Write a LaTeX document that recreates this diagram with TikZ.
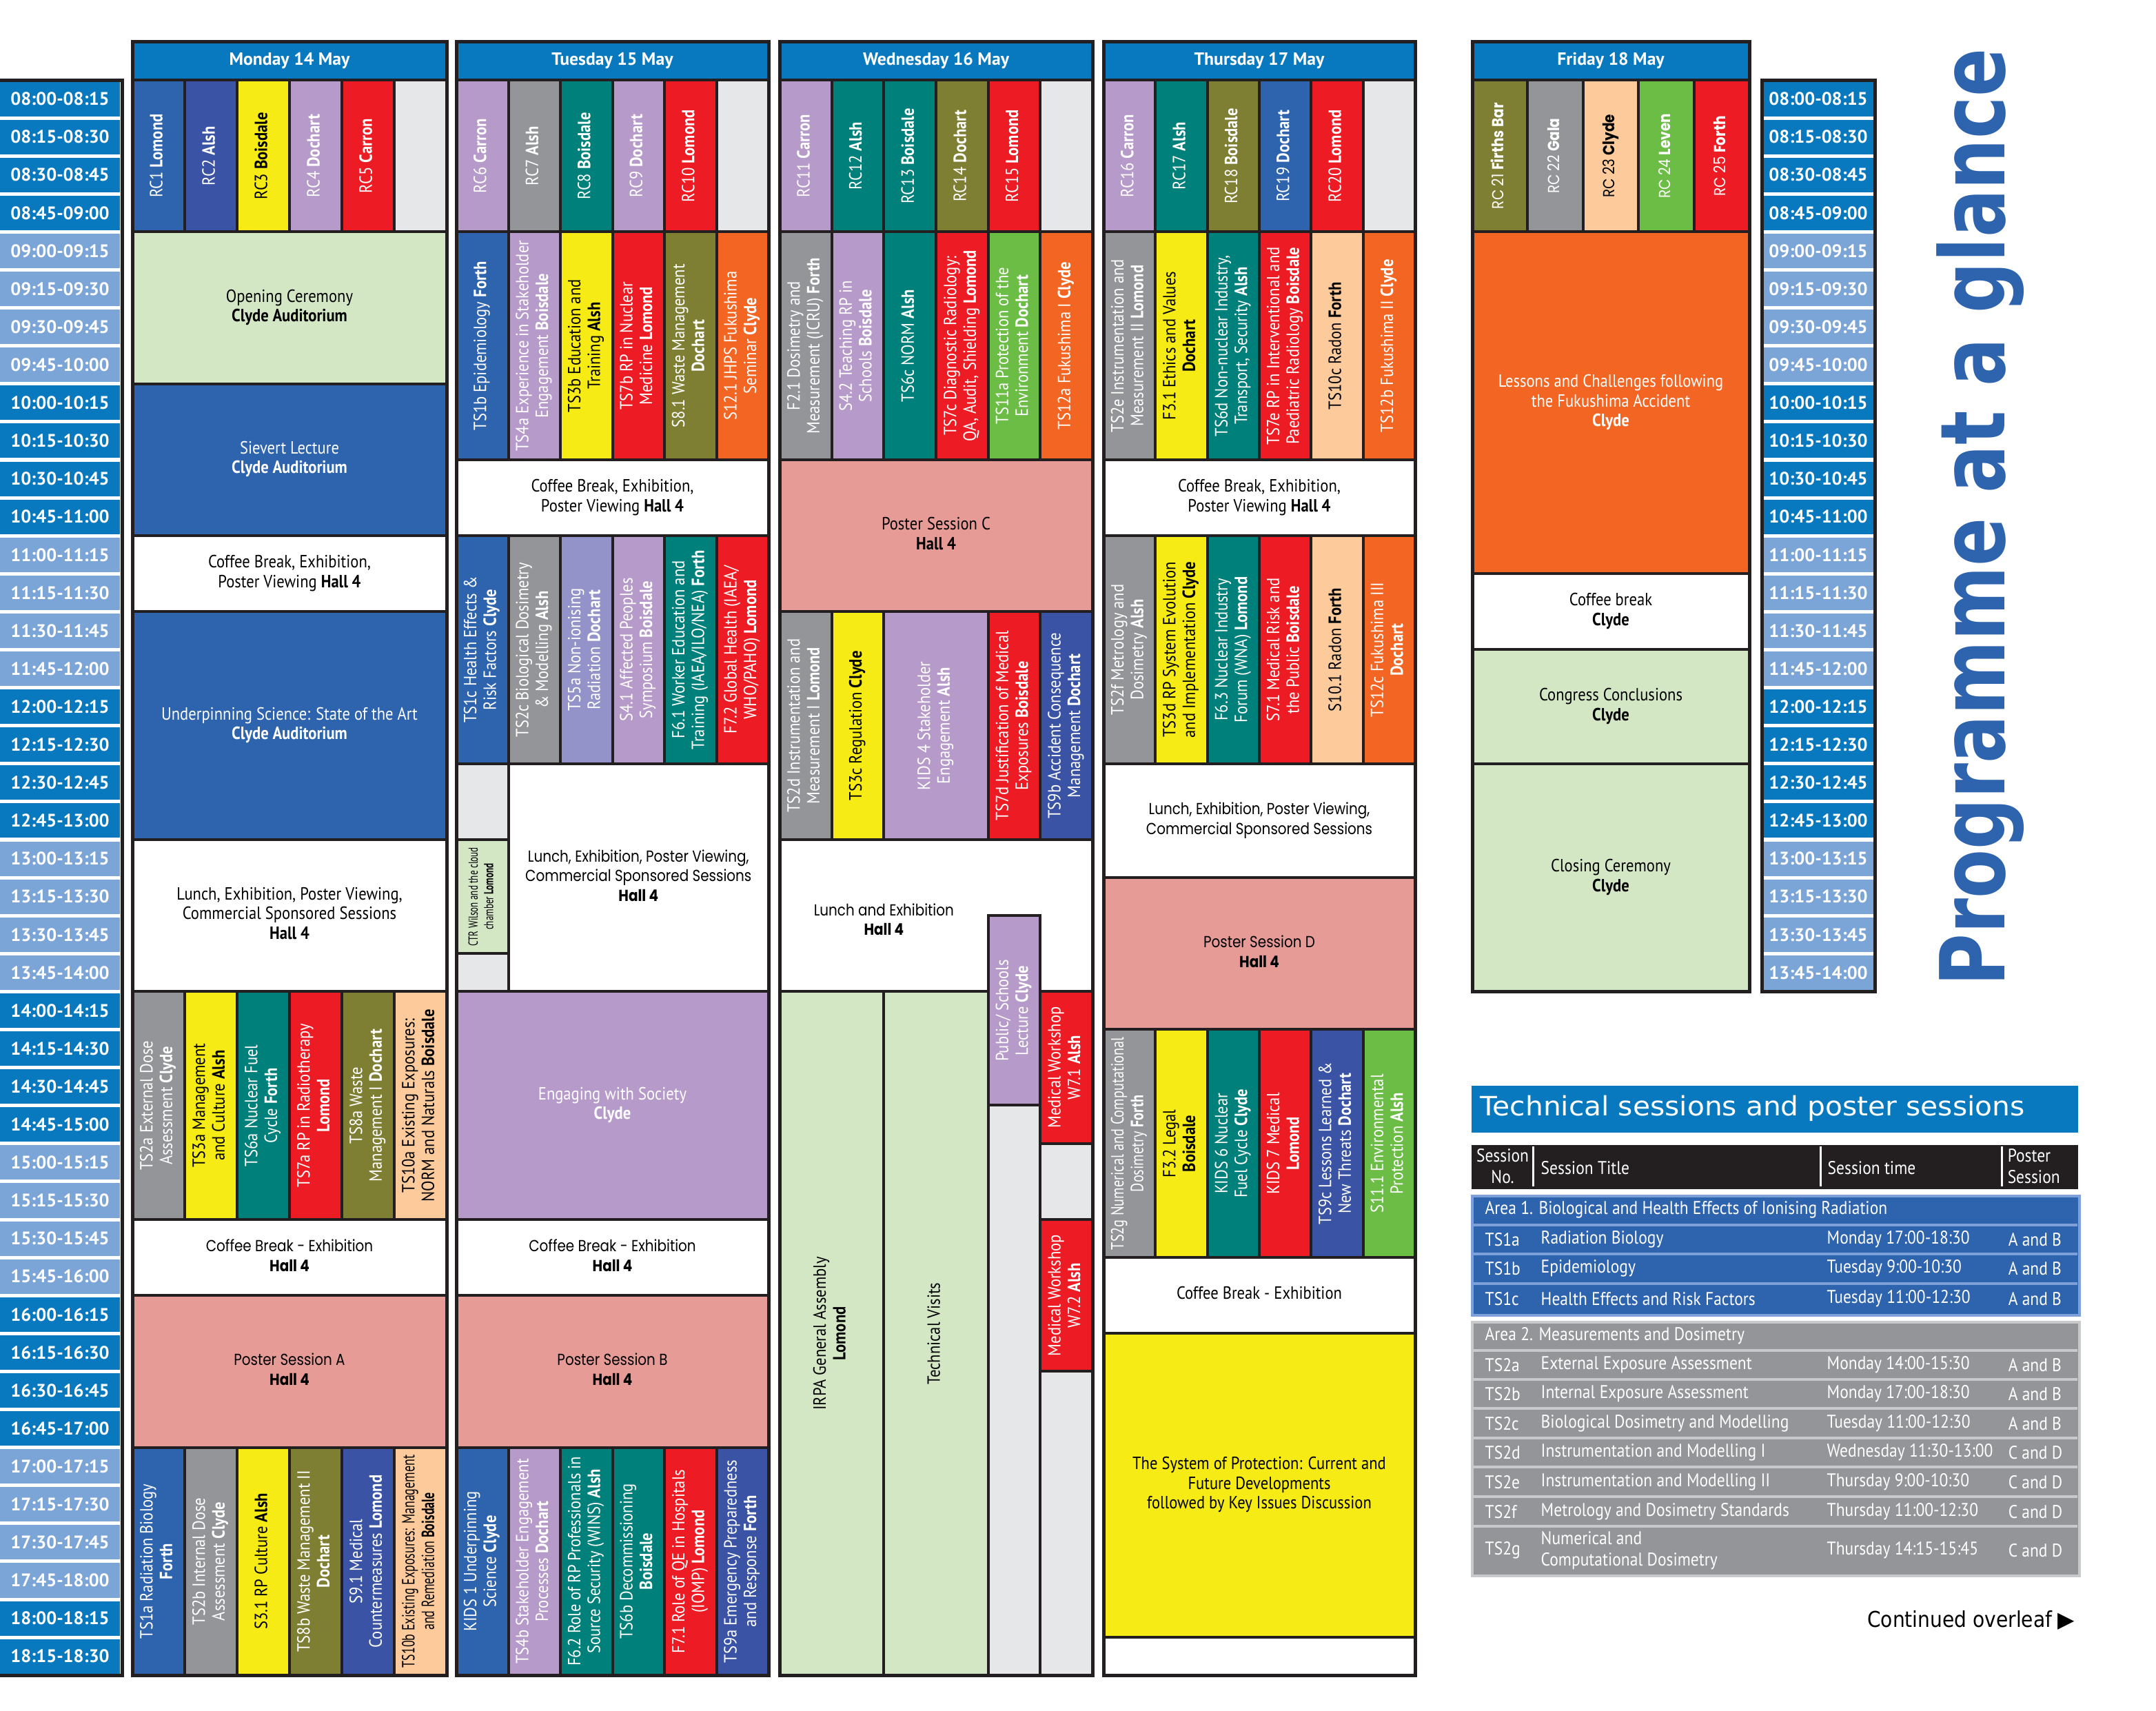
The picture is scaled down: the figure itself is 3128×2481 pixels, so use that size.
\documentclass[tikz,border=0pt]{standalone}
\usepackage{fontspec}
\usepackage{graphicx}
\setmainfont[FakeStretch=0.88]{PT Sans}
\newfontfamily\widef{PT Sans}
\newfontfamily\geof[FakeStretch=0.86]{Poppins}
\newfontfamily\djvf{DejaVu Sans}
\newlength\pxu
\setlength\pxu{0.01cm}
\newsavebox\lbbox
\newcommand\fitlines[2]{\sbox\lbbox{\begin{tabular}{@{}c@{}}#2\end{tabular}}\ifdim\wd\lbbox>#1\relax\resizebox{#1}{\height}{\usebox\lbbox}\else\usebox\lbbox\fi}
\newcommand\two[1]{\ifnum#1<10 0\fi#1}
\definecolor{dark}{HTML}{231F20}
\definecolor{headblue}{HTML}{0879BF}
\definecolor{tdark}{HTML}{0879BF}
\definecolor{tlight}{HTML}{7BA4D7}
\definecolor{cblue}{HTML}{2E63AE}
\definecolor{cnavy}{HTML}{3A53A4}
\definecolor{cyellow}{HTML}{F6EB14}
\definecolor{clilac}{HTML}{B69AC9}
\definecolor{cred}{HTML}{ED1C24}
\definecolor{cgray}{HTML}{939598}
\definecolor{cteal}{HTML}{00807A}
\definecolor{colive}{HTML}{7F7F34}
\definecolor{corange}{HTML}{F26522}
\definecolor{cpeach}{HTML}{FDCB9B}
\definecolor{cgreen}{HTML}{6BBD45}
\definecolor{clgreen}{HTML}{D4E7C5}
\definecolor{csalmon}{HTML}{E69B96}
\definecolor{cperi}{HTML}{9493C9}
\definecolor{cempty}{HTML}{E6E7E8}
\definecolor{sepblue}{HTML}{7DA0D8}
\definecolor{sepgray}{HTML}{C8C9CB}
\definecolor{titleblue}{HTML}{2E63AE}
\tikzset{
  cellb/.style={draw=dark, line width=0.04cm, inner sep=0pt, outer sep=0pt, text=white, font=\fontsize{7.3}{8.1}\selectfont},
  kbl/.style={fill=cblue, text=white},
  knv/.style={fill=cnavy, text=white},
  kye/.style={fill=cyellow, text=black},
  kli/.style={fill=clilac, text=white},
  kre/.style={fill=cred, text=white},
  kgr/.style={fill=cgray, text=white},
  kte/.style={fill=cteal, text=white},
  kol/.style={fill=colive, text=white},
  korn/.style={fill=corange, text=white},
  kpe/.style={fill=cpeach, text=black},
  kgn/.style={fill=cgreen, text=white},
  klg/.style={fill=clgreen, text=black},
  ksa/.style={fill=csalmon, text=black},
  kpw/.style={fill=cperi, text=white},
  kem/.style={fill=cempty},
  kwh/.style={fill=white, text=black},
  kgeo/.style={font=\geof\fontsize{6.6}{8.1}\selectfont},
  hdr/.style={fill=headblue, draw=dark, line width=0.04cm, inner sep=0pt, minimum height=0.56cm, text=white, font=\widef\bfseries\fontsize{7.3}{9}\selectfont},
  tcell/.style={inner sep=0pt, minimum width=1.74cm, minimum height=0.50cm, text=white, font=\widef\bfseries\fontsize{7.5}{9}\selectfont},
  dframe/.style={draw=dark, line width=0.05cm},
  ttxt/.style={text=white, inner sep=0pt, font=\fontsize{7.6}{8.8}\selectfont},
}
\newcommand\Vcell[7]{%
  \pgfmathsetmacro\Lmax{((#5)-(#4))*55.1-22}%
  \node[cellb,#6,rotate=90,minimum width={((#5)-(#4))*0.551cm},minimum height={((#3)-(#2))*\DW*0.01cm}] (#1) at ({\DL+\DW*((#2)+(#3))/2},{116+55.1*((#4)+(#5))/2}) {\fitlines{\Lmax\pxu}{#7}};%
}
\newcommand\Hcell[7]{%
  \pgfmathsetmacro\Lmax{((#3)-(#2))*\DW-16}%
  \node[cellb,#6,minimum width={((#3)-(#2))*\DW*0.01cm},minimum height={((#5)-(#4))*0.551cm}] (#1) at ({\DL+\DW*((#2)+(#3))/2},{116+55.1*((#4)+(#5))/2}) {\fitlines{\Lmax\pxu}{#7}};%
}
\begin{document}
\begin{tikzpicture}[x=0.01cm,y=-0.01cm]
\useasboundingbox (0,0) rectangle (3128,2481);
\fill[white] (0,0) rectangle (3128,2481);

% ---------- left time column
\foreach \i in {0,...,41}{%
  \pgfmathtruncatemacro\hA{8+floor(\i/4)}%
  \pgfmathtruncatemacro\mA{15*mod(\i,4)}%
  \pgfmathtruncatemacro\hB{8+floor((\i+1)/4)}%
  \pgfmathtruncatemacro\mB{15*mod(\i+1,4)}%
  \pgfmathtruncatemacro\pp{mod(floor(\i/4),2)}%
  \ifnum\pp=0 \def\tcol{tdark}\else\def\tcol{tlight}\fi
  \node[tcell, fill=\tcol] (tl\i) at (87,{116+55.1*(\i+0.5)}) {\two\hA:\two\mA-\two\hB:\two\mB};
}
\draw[dframe] (-5,116) -- (177,116) -- (177,2430) -- (-5,2430);

% ---------- right time column
\foreach \i in {0,...,23}{%
  \pgfmathtruncatemacro\hA{8+floor(\i/4)}%
  \pgfmathtruncatemacro\mA{15*mod(\i,4)}%
  \pgfmathtruncatemacro\hB{8+floor((\i+1)/4)}%
  \pgfmathtruncatemacro\mB{15*mod(\i+1,4)}%
  \pgfmathtruncatemacro\pp{mod(floor(\i/4),2)}%
  \ifnum\pp=0 \def\tcol{tdark}\else\def\tcol{tlight}\fi
  \node[tcell, fill=\tcol, minimum width=1.60cm] (tr\i) at (2638,{116+55.1*(\i+0.5)}) {\two\hA:\two\mA-\two\hB:\two\mB};
}
\draw[dframe] (2556,116) rectangle (2720,{116+55.1*24});

% ---------- MONDAY
\def\DL{192}\def\DW{76}
\node[hdr, minimum width={6*\DW*0.01cm}] (monh) at ({\DL+3*\DW},88) {Monday 14 May};
\Vcell{m1}{0}{1}{0}{4}{kbl}{RC1 \textbf{Lomond}}
\Vcell{m2}{1}{2}{0}{4}{knv}{RC2 \textbf{Alsh}}
\Vcell{m3}{2}{3}{0}{4}{kye}{RC3 \textbf{Boisdale}}
\Vcell{m4}{3}{4}{0}{4}{kli}{RC4 \textbf{Dochart}}
\Vcell{m5}{4}{5}{0}{4}{kre}{RC5 \textbf{Carron}}
\Vcell{m6}{5}{6}{0}{4}{kem}{}
\Hcell{mopen}{0}{6}{4}{8}{klg}{Opening Ceremony\\\textbf{Clyde Auditorium}}
\Hcell{msiev}{0}{6}{8}{12}{kbl}{Sievert Lecture\\\textbf{Clyde Auditorium}}
\Hcell{mcofa}{0}{6}{12}{14}{kwh}{Coffee Break, Exhibition,\\Poster Viewing \textbf{Hall 4}}
\Hcell{mund}{0}{6}{14}{20}{kbl}{Underpinning Science: State of the Art\\\textbf{Clyde Auditorium}}
\Hcell{mlun}{0}{6}{20}{24}{kwh}{Lunch, Exhibition, Poster Viewing,\\Commercial Sponsored Sessions\\\textbf{Hall 4}}
\Vcell{mtsa}{0}{1}{24}{30}{kgr}{TS2a External Dose\\Assessment \textbf{Clyde}}
\Vcell{mtsb}{1}{2}{24}{30}{kye}{TS3a Management\\and Culture \textbf{Alsh}}
\Vcell{mtsc}{2}{3}{24}{30}{kte}{TS6a Nuclear Fuel\\Cycle \textbf{Forth}}
\Vcell{mtsd}{3}{4}{24}{30}{kre}{TS7a RP in Radiotherapy\\\textbf{Lomond}}
\Vcell{mtse}{4}{5}{24}{30}{kol}{TS8a Waste\\Management I \textbf{Dochart}}
\Vcell{mtsf}{5}{6}{24}{30}{kpe}{TS10a Existing Exposures:\\NORM and Naturals \textbf{Boisdale}}
\Hcell{mcofb}{0}{6}{30}{32}{kwh,kgeo}{Coffee Break - Exhibition\\\textbf{Hall 4}}
\Hcell{mpa}{0}{6}{32}{36}{ksa,kgeo}{Poster Session A\\\textbf{Hall 4}}
\Vcell{mtsg}{0}{1}{36}{42}{kbl}{TS1a Radiation Biology\\\textbf{Forth}}
\Vcell{mtsh}{1}{2}{36}{42}{kgr}{TS2b Internal Dose\\Assessment \textbf{Clyde}}
\Vcell{mtsi}{2}{3}{36}{42}{kye}{S3.1 RP Culture \textbf{Alsh}}
\Vcell{mtsj}{3}{4}{36}{42}{kol}{TS8b Waste Management II\\\textbf{Dochart}}
\Vcell{mtsk}{4}{5}{36}{42}{knv}{S9.1 Medical\\Countermeasures \textbf{Lomond}}
\Vcell{mtsl}{5}{6}{36}{42}{kpe}{TS10b Existing Exposures: Management\\and Remediation \textbf{Boisdale}}
\draw[dframe] (192,60) rectangle (648,2430);

% ---------- TUESDAY
\def\DL{662}\def\DW{75.5}
\node[hdr, minimum width={6*\DW*0.01cm}] (tueh) at ({\DL+3*\DW},88) {Tuesday 15 May};
\Vcell{u1}{0}{1}{0}{4}{kli}{RC6 \textbf{Carron}}
\Vcell{u2}{1}{2}{0}{4}{kgr}{RC7 \textbf{Alsh}}
\Vcell{u3}{2}{3}{0}{4}{kte}{RC8 \textbf{Boisdale}}
\Vcell{u4}{3}{4}{0}{4}{kli}{RC9 \textbf{Dochart}}
\Vcell{u5}{4}{5}{0}{4}{kre}{RC10 \textbf{Lomond}}
\Vcell{u6}{5}{6}{0}{4}{kem}{}
\Vcell{ua1}{0}{1}{4}{10}{kbl}{TS1b Epidemiology \textbf{Forth}}
\Vcell{ua2}{1}{2}{4}{10}{kli}{TS4a Experience in Stakeholder\\Engagement \textbf{Boisdale}}
\Vcell{ua3}{2}{3}{4}{10}{kye}{TS3b Education and\\Training \textbf{Alsh}}
\Vcell{ua4}{3}{4}{4}{10}{kre}{TS7b RP in Nuclear\\Medicine \textbf{Lomond}}
\Vcell{ua5}{4}{5}{4}{10}{kol}{S8.1 Waste Management\\\textbf{Dochart}}
\Vcell{ua6}{5}{6}{4}{10}{korn}{S12.1 JHPS Fukushima\\Seminar \textbf{Clyde}}
\Hcell{ucofa}{0}{6}{10}{12}{kwh}{Coffee Break, Exhibition,\\Poster Viewing \textbf{Hall 4}}
\Vcell{ub1}{0}{1}{12}{18}{kbl}{TS1c Health Effects \&\\Risk Factors \textbf{Clyde}}
\Vcell{ub2}{1}{2}{12}{18}{kgr}{TS2c Biological Dosimetry\\\& Modelling \textbf{Alsh}}
\Vcell{ub3}{2}{3}{12}{18}{kpw}{TS5a Non-ionising\\Radiation \textbf{Dochart}}
\Vcell{ub4}{3}{4}{12}{18}{kli}{S4.1 Affected Peoples\\Symposium \textbf{Boisdale}}
\Vcell{ub5}{4}{5}{12}{18}{kte}{F6.1 Worker Education and\\Training (IAEA/ILO/NEA) \textbf{Forth}}
\Vcell{ub6}{5}{6}{12}{18}{kre}{F7.2 Global Health (IAEA/\\WHO/PAHO) \textbf{Lomond}}
\Vcell{uga}{0}{1}{18}{20}{kem}{}
\Vcell{uctr}{0}{1}{20}{23}{klg,font=\fontsize{5.4}{6.4}\selectfont}{CTR Wilson and the cloud\\chamber \textbf{Lomond}}
\Vcell{ugb}{0}{1}{23}{24}{kem}{}
\Hcell{ulun}{1}{6}{18}{24}{kwh,kgeo}{Lunch, Exhibition, Poster Viewing,\\Commercial Sponsored Sessions\\\textbf{Hall 4}}
\Hcell{ueng}{0}{6}{24}{30}{kli}{Engaging with Society\\\textbf{Clyde}}
\Hcell{ucofb}{0}{6}{30}{32}{kwh,kgeo}{Coffee Break - Exhibition\\\textbf{Hall 4}}
\Hcell{upb}{0}{6}{32}{36}{ksa,kgeo}{Poster Session B\\\textbf{Hall 4}}
\Vcell{uc1}{0}{1}{36}{42}{kbl}{KIDS 1 Underpinning\\Science \textbf{Clyde}}
\Vcell{uc2}{1}{2}{36}{42}{kli}{TS4b Stakeholder Engagement\\Processes \textbf{Dochart}}
\Vcell{uc3}{2}{3}{36}{42}{kte}{F6.2 Role of RP Professionals in\\Source Security (WINS) \textbf{Alsh}}
\Vcell{uc4}{3}{4}{36}{42}{kte}{TS6b Decommissioning\\\textbf{Boisdale}}
\Vcell{uc5}{4}{5}{36}{42}{kre}{F7.1 Role of QE in Hospitals\\(IOMP) \textbf{Lomond}}
\Vcell{uc6}{5}{6}{36}{42}{knv}{TS9a Emergency Preparedness\\and Response \textbf{Forth}}
\draw[dframe] (662,60) rectangle (1115,2430);

% ---------- WEDNESDAY
\def\DL{1131}\def\DW{75.67}
\node[hdr, minimum width={6*\DW*0.01cm}] (wedh) at ({\DL+3*\DW},88) {Wednesday 16 May};
\Vcell{w1}{0}{1}{0}{4}{kli}{RC11 \textbf{Carron}}
\Vcell{w2}{1}{2}{0}{4}{kte}{RC12 \textbf{Alsh}}
\Vcell{w3}{2}{3}{0}{4}{kte}{RC13 \textbf{Boisdale}}
\Vcell{w4}{3}{4}{0}{4}{kol}{RC14 \textbf{Dochart}}
\Vcell{w5}{4}{5}{0}{4}{kre}{RC15 \textbf{Lomond}}
\Vcell{w6}{5}{6}{0}{4}{kem}{}
\Vcell{wa1}{0}{1}{4}{10}{kgr}{F2.1 Dosimetry and\\Measurement (ICRU) \textbf{Forth}}
\Vcell{wa2}{1}{2}{4}{10}{kli}{S4.2 Teaching RP in\\Schools \textbf{Boisdale}}
\Vcell{wa3}{2}{3}{4}{10}{kte}{TS6c NORM \textbf{Alsh}}
\Vcell{wa4}{3}{4}{4}{10}{kre}{TS7c Diagnostic Radiology:\\QA, Audit, Shielding \textbf{Lomond}}
\Vcell{wa5}{4}{5}{4}{10}{kgn}{TS11a Protection of the\\Environment \textbf{Dochart}}
\Vcell{wa6}{5}{6}{4}{10}{korn}{TS12a Fukushima I \textbf{Clyde}}
\Hcell{wpc}{0}{6}{10}{14}{ksa}{Poster Session C\\\textbf{Hall 4}}
\Vcell{wb1}{0}{1}{14}{20}{kgr}{TS2d Instrumentation and\\Measurement I \textbf{Lomond}}
\Vcell{wb2}{1}{2}{14}{20}{kye}{TS3c Regulation \textbf{Clyde}}
\Vcell{wb3}{2}{4}{14}{20}{kli}{KIDS 4 Stakeholder\\Engagement \textbf{Alsh}}
\Vcell{wb5}{4}{5}{14}{20}{kre}{TS7d Justification of Medical\\Exposures \textbf{Boisdale}}
\Vcell{wb6}{5}{6}{14}{20}{knv}{TS9b Accident Consequence\\Management \textbf{Dochart}}
\Hcell{wlun}{0}{6}{20}{24}{kwh}{}
\node[kgeo, text=black, inner sep=0pt, align=center] (wluntxt) at ({\DL+2*\DW},{116+55.1*22.1}) {Lunch and Exhibition\\\textbf{Hall 4}};
\Vcell{wpub}{4}{5}{22}{27}{kli}{Public/ Schools\\Lecture \textbf{Clyde}}
\Vcell{wgc}{4}{5}{27}{42}{kem}{}
\Vcell{wmw1}{5}{6}{24}{28}{kre}{Medical Workshop\\W7.1 \textbf{Alsh}}
\Vcell{wgd}{5}{6}{28}{30}{kem}{}
\Vcell{wmw2}{5}{6}{30}{34}{kre}{Medical Workshop\\W7.2 \textbf{Alsh}}
\Vcell{wge}{5}{6}{34}{42}{kem}{}
\Vcell{wirpa}{0}{2}{24}{42}{klg}{IRPA General Assembly\\\textbf{Lomond}}
\Vcell{wtv}{2}{4}{24}{42}{klg}{Technical Visits}
\draw[dframe] (1131,60) rectangle (1585,2430);

% ---------- THURSDAY
\def\DL{1601}\def\DW{75.33}
\node[hdr, minimum width={6*\DW*0.01cm}] (thuh) at ({\DL+3*\DW},88) {Thursday 17 May};
\Vcell{h1}{0}{1}{0}{4}{kli}{RC16 \textbf{Carron}}
\Vcell{h2}{1}{2}{0}{4}{kte}{RC17 \textbf{Alsh}}
\Vcell{h3}{2}{3}{0}{4}{kol}{RC18 \textbf{Boisdale}}
\Vcell{h4}{3}{4}{0}{4}{kbl}{RC19 \textbf{Dochart}}
\Vcell{h5}{4}{5}{0}{4}{kre}{RC20 \textbf{Lomond}}
\Vcell{h6}{5}{6}{0}{4}{kem}{}
\Vcell{ha1}{0}{1}{4}{10}{kgr}{TS2e Instrumentation and\\Measurement II \textbf{Lomond}}
\Vcell{ha2}{1}{2}{4}{10}{kye}{F3.1 Ethics and Values\\\textbf{Dochart}}
\Vcell{ha3}{2}{3}{4}{10}{kte}{TS6d Non-nuclear Industry,\\Transport, Security \textbf{Alsh}}
\Vcell{ha4}{3}{4}{4}{10}{kre}{TS7e RP in Interventional and\\Paediatric Radiology \textbf{Boisdale}}
\Vcell{ha5}{4}{5}{4}{10}{kpe}{TS10c Radon \textbf{Forth}}
\Vcell{ha6}{5}{6}{4}{10}{korn}{TS12b Fukushima II \textbf{Clyde}}
\Hcell{hcofa}{0}{6}{10}{12}{kwh}{Coffee Break, Exhibition,\\Poster Viewing \textbf{Hall 4}}
\Vcell{hb1}{0}{1}{12}{18}{kgr}{TS2f Metrology and\\Dosimetry \textbf{Alsh}}
\Vcell{hb2}{1}{2}{12}{18}{kye}{TS3d RP System Evolution\\and Implementation \textbf{Clyde}}
\Vcell{hb3}{2}{3}{12}{18}{kte}{F6.3 Nuclear Industry\\Forum (WNA) \textbf{Lomond}}
\Vcell{hb4}{3}{4}{12}{18}{kre}{S7.1 Medical Risk and\\the Public \textbf{Boisdale}}
\Vcell{hb5}{4}{5}{12}{18}{kpe}{S10.1 Radon \textbf{Forth}}
\Vcell{hb6}{5}{6}{12}{18}{korn}{TS12c Fukushima III\\\textbf{Dochart}}
\Hcell{hlun}{0}{6}{18}{21}{kwh,kgeo}{Lunch, Exhibition, Poster Viewing,\\Commercial Sponsored Sessions}
\Hcell{hpd}{0}{6}{21}{25}{ksa,kgeo}{Poster Session D\\\textbf{Hall 4}}
\Vcell{hc1}{0}{1}{25}{31}{kgr}{TS2g Numerical and Computational\\Dosimetry \textbf{Forth}}
\Vcell{hc2}{1}{2}{25}{31}{kye}{F3.2 Legal\\\textbf{Boisdale}}
\Vcell{hc3}{2}{3}{25}{31}{kte}{KIDS 6 Nuclear\\Fuel Cycle \textbf{Clyde}}
\Vcell{hc4}{3}{4}{25}{31}{kre}{KIDS 7 Medical\\\textbf{Lomond}}
\Vcell{hc5}{4}{5}{25}{31}{knv}{TS9c Lessons Learned \&\\New Threats \textbf{Dochart}}
\Vcell{hc6}{5}{6}{25}{31}{kgn}{S11.1 Environmental\\Protection \textbf{Alsh}}
\Hcell{hcofb}{0}{6}{31}{33}{kwh}{Coffee Break - Exhibition}
\Hcell{hsys}{0}{6}{33}{41}{kye}{The System of Protection: Current and\\Future Developments\\followed by Key Issues Discussion}
\Hcell{hend}{0}{6}{41}{42}{kwh}{}
\draw[dframe] (1601,60) rectangle (2053,2430);

% ---------- FRIDAY
\def\DL{2136}\def\DW{80.4}
\node[hdr, minimum width={5*\DW*0.01cm}] (frih) at ({\DL+2.5*\DW},88) {Friday 18 May};
\Vcell{f1}{0}{1}{0}{4}{kol,kgeo}{RC 21 \textbf{Firths Bar}}
\Vcell{f2}{1}{2}{0}{4}{kgr,kgeo}{RC 22 \textbf{Gala}}
\Vcell{f3}{2}{3}{0}{4}{kpe,kgeo}{RC 23 \textbf{Clyde}}
\Vcell{f4}{3}{4}{0}{4}{kgn,kgeo}{RC 24 \textbf{Leven}}
\Vcell{f5}{4}{5}{0}{4}{kre,kgeo}{RC 25 \textbf{Forth}}
\Hcell{fles}{0}{5}{4}{13}{korn}{Lessons and Challenges following\\the Fukushima Accident\\\textbf{Clyde}}
\Hcell{fcof}{0}{5}{13}{15}{kwh}{Coffee break\\\textbf{Clyde}}
\Hcell{fcon}{0}{5}{15}{18}{klg}{Congress Conclusions\\\textbf{Clyde}}
\Hcell{fclo}{0}{5}{18}{24}{klg}{Closing Ceremony\\\textbf{Clyde}}
\draw[dframe] (2136,60) rectangle (2538,{116+55.1*24});

% ---------- big title
\node[rotate=90, anchor=base, inner sep=0pt, text=titleblue, font=\djvf\bfseries\fontsize{37}{40}\selectfont] (title) at (2908,750) {\resizebox{1360\pxu}{\height}{Programme at a glance}};

% ---------- table
\node[fill=headblue, inner sep=0pt, minimum width=8.80cm, minimum height=0.68cm, anchor=north west] (tbar) at (2134,1574) {};
\node[anchor=west, inner sep=0pt, text=white, font=\djvf\fontsize{11}{13}\selectfont] (tbartxt) at (2147,1608) {\resizebox{790\pxu}{\height}{Technical sessions and poster sessions}};
\node[fill=dark, inner sep=0pt, minimum width=8.80cm, minimum height=0.64cm, anchor=north west] (thead) at (2134,1660) {};
\foreach \xx in {2224,2641,2904} \draw[white, line width=0.03cm] (\xx,1663) -- (\xx,1721);
\node[ttxt, align=center] (hno) at (2180,1692) {Session\\No.};
\node[ttxt, anchor=west] (htitle) at (2235,1694) {Session Title};
\node[ttxt, anchor=west] (htime) at (2651,1694) {Session time};
\node[ttxt, anchor=west, align=left] (hpos) at (2912,1692) {Poster\\Session};

\node[fill=cblue, draw=sepblue, line width=0.04cm, inner sep=0pt, minimum width=8.80cm, minimum height=1.73cm, anchor=north west] (area1) at (2134,1733) {};
\foreach \yy in {1777,1819,1862} \draw[sepblue, line width=0.04cm] (2134,\yy) -- (3014,\yy);
\node[ttxt, anchor=west] (a1h) at (2154,1755) {Area 1. Biological and Health Effects of Ionising Radiation};
\foreach \yy/\sA/\sB/\sC/\sD [count=\k] in {1798/TS1a/Radiation Biology/Monday 17:00-18:30/A and B,1840/TS1b/Epidemiology/Tuesday 9:00-10:30/A and B,1884/TS1c/Health Effects and Risk Factors/Tuesday 11:00-12:30/A and B}{
  \node[ttxt, anchor=west] (a1n\k) at (2154,\yy) {\sA};
  \node[ttxt, anchor=west] (a1t\k) at (2235,\yy) {\sB};
  \node[ttxt, anchor=west] (a1s\k) at (2650,\yy) {\sC};
  \node[ttxt, anchor=west] (a1p\k) at (2913,\yy) {\sD};
}

\node[fill=cgray, draw=sepgray, line width=0.04cm, inner sep=0pt, minimum width=8.80cm, minimum height=3.68cm, anchor=north west] (area2) at (2134,1916) {};
\foreach \yy in {1959,2001,2043,2086,2128,2171,2214} \draw[sepgray, line width=0.04cm] (2134,\yy) -- (3014,\yy);
\node[ttxt, anchor=west] (a2h) at (2154,1938) {Area 2. Measurements and Dosimetry};
\foreach \yy/\sA/\sB/\sC/\sD [count=\k] in {1980/TS2a/External Exposure Assessment/Monday 14:00-15:30/A and B,2022/TS2b/Internal Exposure Assessment/Monday 17:00-18:30/A and B,2065/TS2c/Biological Dosimetry and Modelling/Tuesday 11:00-12:30/A and B,2107/TS2d/Instrumentation and Modelling I/Wednesday 11:30-13:00/C and D,2150/TS2e/Instrumentation and Modelling II/Thursday 9:00-10:30/C and D,2193/TS2f/Metrology and Dosimetry Standards/Thursday 11:00-12:30/C and D}{
  \node[ttxt, anchor=west] (a2n\k) at (2154,\yy) {\sA};
  \node[ttxt, anchor=west] (a2t\k) at (2235,\yy) {\sB};
  \node[ttxt, anchor=west] (a2s\k) at (2650,\yy) {\sC};
  \node[ttxt, anchor=west] (a2p\k) at (2913,\yy) {\sD};
}
\node[ttxt, anchor=west] (a2n7) at (2154,2249) {TS2g};
\node[ttxt, anchor=west, align=left] (a2t7) at (2235,2249) {Numerical and\\Computational Dosimetry};
\node[ttxt, anchor=west] (a2s7) at (2650,2249) {Thursday 14:15-15:45};
\node[ttxt, anchor=west] (a2p7) at (2913,2249) {C and D};

% ---------- continued overleaf
\node[anchor=base east, inner sep=0pt, font=\djvf\fontsize{9}{11}\selectfont] (cont) at (2978,2360) {\resizebox{268\pxu}{\height}{Continued overleaf}};
\node[anchor=base west, inner sep=0pt, font=\djvf\fontsize{9}{11}\selectfont] (contarr) at (2985,2360) {▶};
\end{tikzpicture}
\end{document}
